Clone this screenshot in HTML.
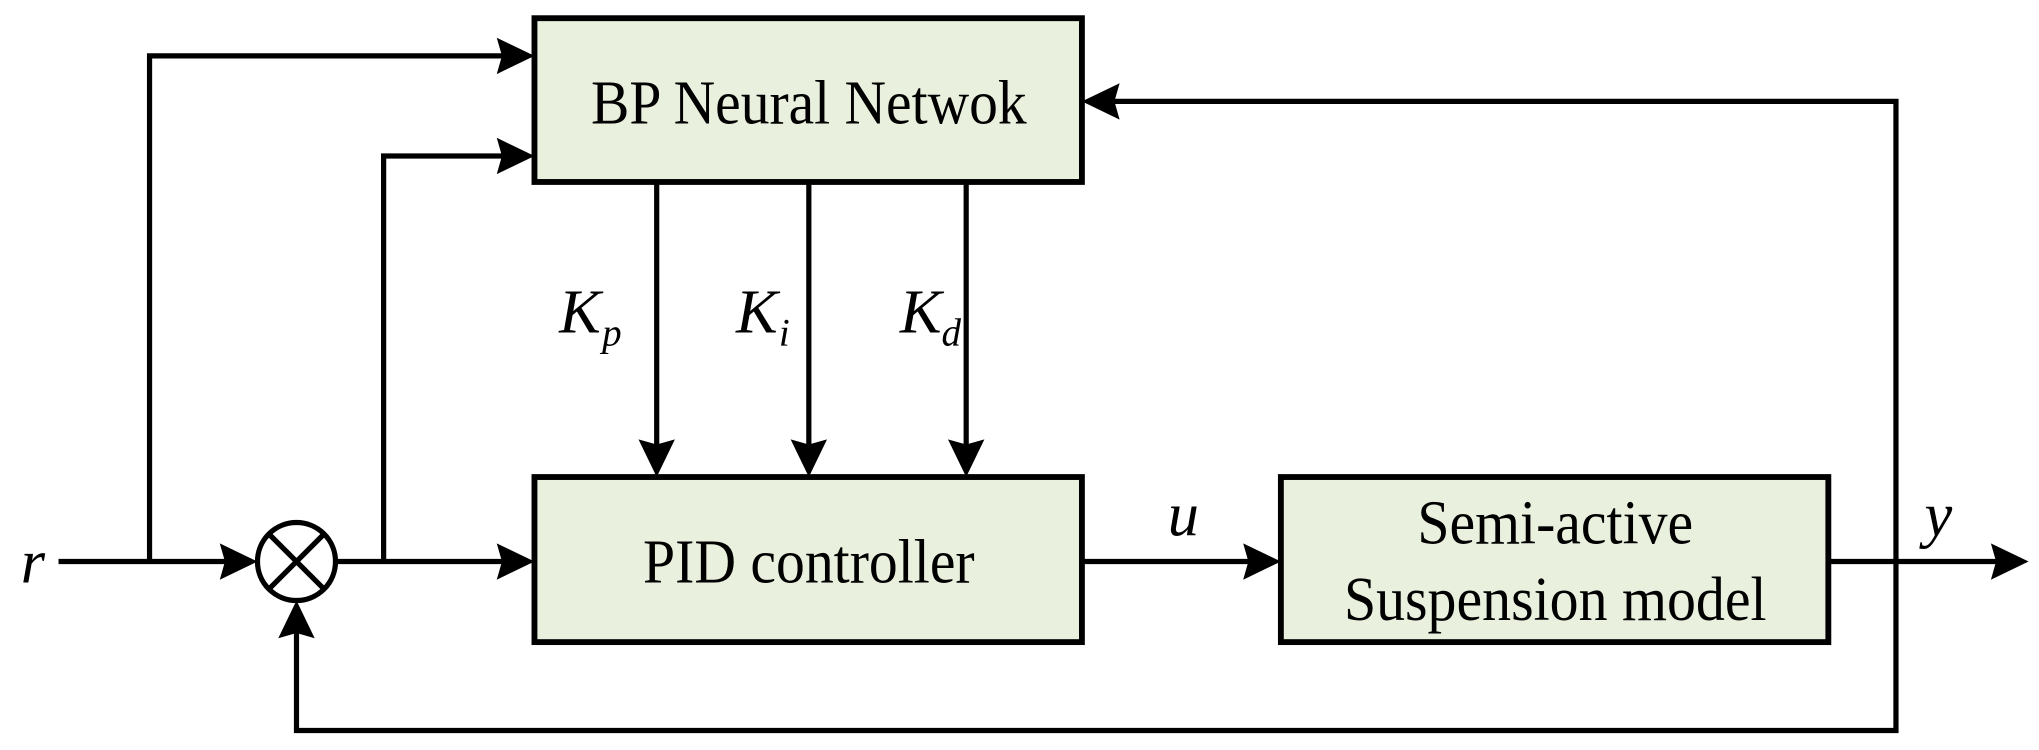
<!DOCTYPE html>
<html><head><meta charset="utf-8"><style>html,body{margin:0;padding:0;background:#fff}svg{display:block}text{font-family:"Liberation Serif","Times New Roman",serif}</style></head>
<body>
<svg width="2039" height="750" viewBox="0 0 1568 577" preserveAspectRatio="none" xmlns="http://www.w3.org/2000/svg">
<defs>
<path id="ar" d="M0,0 L-29,-14 L-25,0 L-29,14 Z" fill="#000"/>
</defs>
<g fill="#e9f0dd" stroke="#000" stroke-width="4.5">
<rect x="411" y="14" width="421" height="126"/>
<rect x="411" y="367" width="421" height="127"/>
<rect x="985" y="367" width="421" height="127"/>
</g>
<g stroke="#000" stroke-width="4" fill="none">
<line x1="45" y1="432" x2="190" y2="432"/>
<polyline points="115,432 115,43 400,43"/>
<line x1="258" y1="432" x2="400" y2="432"/>
<polyline points="295,432 295,120 400,120"/>
<line x1="832" y1="432" x2="975" y2="432"/>
<line x1="1406" y1="432" x2="1550" y2="432"/>
<polyline points="1458,432 1458,78 842,78"/>
<polyline points="1458,432 1458,562 228,562 228,472"/>
<line x1="505" y1="140" x2="505" y2="358"/>
<line x1="622" y1="140" x2="622" y2="358"/>
<line x1="743" y1="140" x2="743" y2="358"/>
<circle cx="228" cy="432" r="30" fill="#fff"/>
<line x1="207" y1="411" x2="249" y2="453"/>
<line x1="249" y1="411" x2="207" y2="453"/>
</g>
<use href="#ar" transform="translate(198,432)"/>
<use href="#ar" transform="translate(411,43)"/>
<use href="#ar" transform="translate(411,120)"/>
<use href="#ar" transform="translate(411,432)"/>
<use href="#ar" transform="translate(985,432)"/>
<use href="#ar" transform="translate(1560,432)"/>
<use href="#ar" transform="translate(832,78) rotate(180)"/>
<use href="#ar" transform="translate(228,462) rotate(-90)"/>
<use href="#ar" transform="translate(505,367) rotate(90)"/>
<use href="#ar" transform="translate(622,367) rotate(90)"/>
<use href="#ar" transform="translate(743,367) rotate(90)"/>
<g fill="#000" font-size="48">
<text x="622" y="95" text-anchor="middle" textLength="335" lengthAdjust="spacingAndGlyphs">BP Neural Netwok</text>
<text x="622" y="448" text-anchor="middle" textLength="255" lengthAdjust="spacingAndGlyphs">PID controller</text>
<text x="1196" y="418" text-anchor="middle" textLength="212" lengthAdjust="spacingAndGlyphs">Semi-active</text>
<text x="1196" y="477" text-anchor="middle" textLength="325" lengthAdjust="spacingAndGlyphs">Suspension model</text>
<g font-style="italic">
<text x="16" y="448">r</text>
<text x="898" y="412">u</text>
<text x="1480" y="412">y</text>
<text x="430" y="256">K</text><text x="463" y="266" font-size="30">p</text>
<text x="566" y="256">K</text><text x="599" y="266" font-size="30">i</text>
<text x="692" y="256">K</text><text x="724" y="266" font-size="30">d</text>
</g>
</g>
</svg>
</body></html>
